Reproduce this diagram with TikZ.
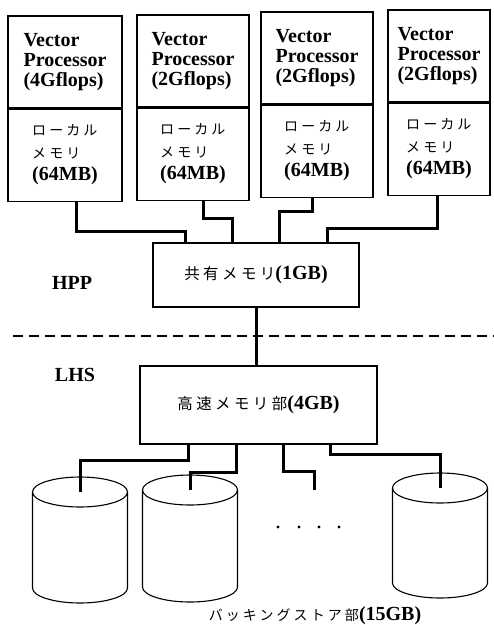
\documentclass[tikz,border=0pt]{standalone}
\usepackage{fontspec}
\setmainfont{Liberation Serif}
\newfontfamily\jp[LetterSpace=22]{Noto Sans CJK JP}
\newcommand{\jpsmall}{\jp\mdseries\fontsize{14}{22.5}\selectfont}
\newcommand{\jpbig}{\jp\mdseries\fontsize{15.5}{22}\selectfont}
\usetikzlibrary{positioning, calc}

\begin{document}
\begin{tikzpicture}[x=1pt, y=-1pt,
    vp/.style={rectangle, draw, line width=1.1pt, minimum height=92, align=left, font=\bfseries\fontsize{20}{20}\selectfont},
    lmem/.style={rectangle, draw, line width=1.1pt, minimum height=92, align=left, font=\bfseries\fontsize{20}{22.5}\selectfont},
    membox/.style={rectangle, draw, line width=1.1pt, font=\bfseries\fontsize{20}{22}\selectfont},
    disk/.style={draw, line width=1.1pt},
    bus/.style={line width=3pt},
    lbl/.style={font=\bfseries\fontsize{20}{22}\selectfont}]
    \useasboundingbox (0,0) rectangle (494,625);

    % vector processors with their local memory
    \node[vp, minimum width=114] (vp1) at (65,62) {Vector\\Processor\\(4Gflops)};
    \node[lmem, minimum width=114, below=0pt of vp1] (lm1) {{\jpsmall ローカル}\\{\jpsmall メモリ}\\(64MB)};
    \node[vp, minimum width=112] (vp2) at (193,61) {Vector\\Processor\\(2Gflops)};
    \node[lmem, minimum width=112, below=0pt of vp2] (lm2) {{\jpsmall ローカル}\\{\jpsmall メモリ}\\(64MB)};
    \node[vp, minimum width=112] (vp3) at (317,58) {Vector\\Processor\\(2Gflops)};
    \node[lmem, minimum width=112, below=0pt of vp3] (lm3) {{\jpsmall ローカル}\\{\jpsmall メモリ}\\(64MB)};
    \node[vp, minimum width=102] (vp4) at (439,56) {Vector\\Processor\\(2Gflops)};
    \node[lmem, minimum width=102, below=0pt of vp4] (lm4) {{\jpsmall ローカル}\\{\jpsmall メモリ}\\(64MB)};

    \node[membox, minimum width=206, minimum height=64] (sm) at (256,275) {{\jpbig 共有メモリ}(1GB)};
    \node[membox, minimum width=237, minimum height=78] (hs) at (258.5,405) {{\jpbig 高速メモリ部}(4GB)};

    \node[lbl] (hpp) at (72,283) {HPP};
    \node[lbl] (lhs) at (75,375) {LHS};
    \draw[line width=1.1pt, dash pattern=on 10pt off 6pt] (13,336) -- (494,336);

    % backing store
    \foreach \n/\x/\y/\h in {d1/80/492/96, d2/190/490/97, d4/440/488/95} {
        \coordinate (\n) at (\x,\y);
        \draw[disk] (\n) ellipse [x radius=47.5, y radius=15];
        \draw[disk] ([xshift=-47.5pt]\n) -- ++(0,\h) arc [start angle=180, end angle=0, x radius=47.5, y radius=15] -- ++(0,-\h);
    }
    \coordinate (fe) at (314,490);
    \foreach \x in {278,299,319,339} \fill (\x,527) circle (1.7);
    \node[lbl] (bs) at (315,616) {{\jp\mdseries\fontsize{14}{16}\selectfont バッキングストア部}(15GB)};

    \draw[bus] ([xshift=11]lm1.south) -- ++(0,30) -| ([xshift=-71]sm.north);
    \draw[bus] ([xshift=10]lm2.south) -- ++(0,18) -| ([xshift=-24]sm.north);
    \draw[bus] ([xshift=-5]lm3.south) -- ++(0,14) -| ([xshift=23]sm.north);
    \draw[bus] ([xshift=-2]lm4.south) -- ++(0,33) -| ([xshift=71]sm.north);
    \draw[bus] (sm.south) -- (sm.south |- hs.north);
    \draw[bus] ([xshift=-70]hs.south) -- ++(0,16) -| (d1);
    \draw[bus] ([xshift=-22.5]hs.south) -- ++(0,28) -| (d2);
    \draw[bus] ([xshift=24.5]hs.south) -- ++(0,27) -| (fe);
    \draw[bus] ([xshift=71.5]hs.south) -- ++(0,10) -| (d4);
\end{tikzpicture}
\end{document}
